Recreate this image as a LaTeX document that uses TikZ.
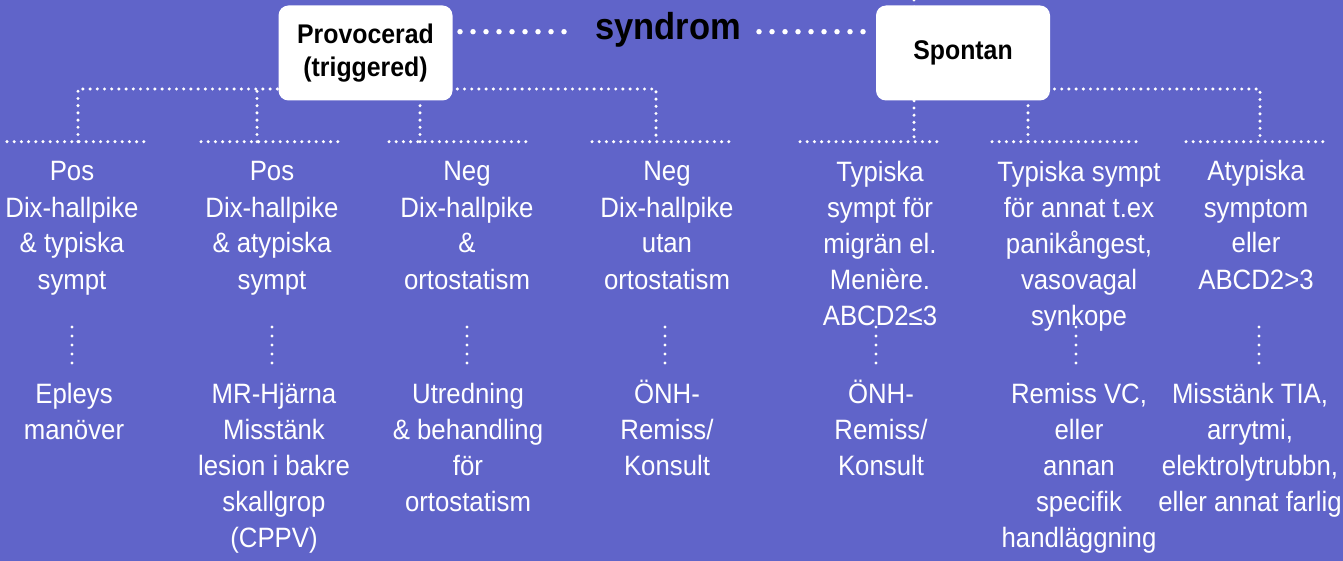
\documentclass[tikz,border=0pt]{standalone}
\usepackage{fontspec}
\setmainfont{Liberation Sans}[FakeStretch=0.92]
\definecolor{bg}{RGB}{96,100,201}
\begin{document}
\begin{tikzpicture}[x=1pt,y=-1pt,
 dotl/.style={white, line width=3.4pt, line cap=round, dash pattern=on 0pt off 7.2pt},
 vdot/.style={white, line width=3.4pt, line cap=round, dash pattern=on 0pt off 9pt},
 bigdot/.style={white, line width=5.5pt, line cap=round, dash pattern=on 0pt off 13pt},
 box/.style={fill=white, rounded corners=10pt, minimum width=174pt, minimum height=95pt, inner sep=0pt, font=\fontsize{27}{36}\selectfont\bfseries, align=center, text=black},
 boxtext/.style={font=\fontsize{27}{36}\selectfont\bfseries, text=black, inner sep=0pt},
 title/.style={anchor=base, inner sep=0pt, font=\fontsize{37.5}{40}\selectfont\bfseries, text=black},
 txt/.style={anchor=base, align=center, text=white, inner sep=0pt, font=\fontsize{28}{36}\selectfont}]
\fill[bg] (0,0) rectangle (1343,561);
\useasboundingbox (0,0) rectangle (1343,561);

% coordinates for connectors
\coordinate (pl) at (460,31.7); \coordinate (pr) at (571,31.7);
\coordinate (sl) at (759,31.7); \coordinate (sr) at (872,31.7);
\coordinate (j1) at (78,89); \coordinate (j4) at (656,89);
\coordinate (v1) at (78,141.7); \coordinate (v2) at (257,141.7);
\coordinate (v3) at (420,141.7); \coordinate (v4) at (656,141.7);
\coordinate (v5) at (914,141.7); \coordinate (v6) at (1028,141.7);
\coordinate (v7) at (1260,141.7);
\coordinate (t5) at (914,0); \coordinate (j6) at (1028,89); \coordinate (j7) at (1260,89);

% tree dotted lines
\draw[dotl] (v1) -- (j1) -- (j4) -- (v4);
\draw[dotl] (v2) -- (v2 |- j1);
\draw[dotl] (v3) -- (v3 |- j1);
\draw[dotl] (t5) -- (v5);
\draw[dotl] (v6) -- (j6) -- (j7) -- (v7);

% segments
\foreach \a/\b in {7/150, 201/344, 389/531, 592/735, 800/943, 992/1136, 1186/1329}
  \draw[dotl] (\a,141.7) -- (\b,141.7);

\draw[bigdot] (pl) -- (pr);
\draw[bigdot] (sl) -- (sr);

% boxes and title
\node[box] (prov) at (365.5,53) {Provocerad\\[-3pt](triggered)};
\node[box] (spon) at (963,53) {};
\node[boxtext] (spont) at (963,53) {Spontan};
\node[title] (syn) at (668,40) {syndrom};

% upper texts (anchor = baseline of last line)
\node[txt] (a1) at (72,289) {Pos\\Dix-hallpike\\\& typiska\\sympt};
\node[txt] (a2) at (272,289) {Pos\\Dix-hallpike\\\& atypiska\\sympt};
\node[txt] (a3) at (467,289) {Neg\\Dix-hallpike\\\&\\ortostatism};
\node[txt] (a4) at (667,289) {Neg\\Dix-hallpike\\utan\\ortostatism};
\node[txt] (a5) at (880,325) {Typiska\\sympt för\\migrän el.\\Menière.\\ABCD2≤3};
\node[txt] (a6) at (1079,325) {Typiska sympt\\för annat t.ex\\panikångest,\\vasovagal\\synkope};
\node[txt] (a7) at (1256,289) {Atypiska\\symptom\\eller\\ABCD2>3};

% lower texts
\node[txt] (b1) at (74,439) {Epleys\\manöver};
\node[txt] (b2) at (274,547) {MR-Hjärna\\Misstänk\\lesion i bakre\\skallgrop\\(CPPV)};
\node[txt] (b3) at (468,511) {Utredning\\\& behandling\\för\\ortostatism};
\node[txt] (b4) at (667,475) {ÖNH-\\Remiss/\\Konsult};
\node[txt] (b5) at (881,475) {ÖNH-\\Remiss/\\Konsult};
\node[txt] (b6) at (1079,547) {Remiss VC,\\eller\\annan\\specifik\\handläggning};
\node[txt] (b7) at (1250,511) {Misstänk TIA,\\arrytmi,\\elektrolytrubbn,\\eller annat farlig};

% small vertical connectors
\foreach \x/\n in {72/1, 272/2, 467/3, 665/4, 876/5, 1076/6, 1259/7}{
  \coordinate (u\n) at (\x,327); \coordinate (w\n) at (\x,364);
  \draw[vdot] (u\n) -- (w\n);
}
\end{tikzpicture}
\end{document}
